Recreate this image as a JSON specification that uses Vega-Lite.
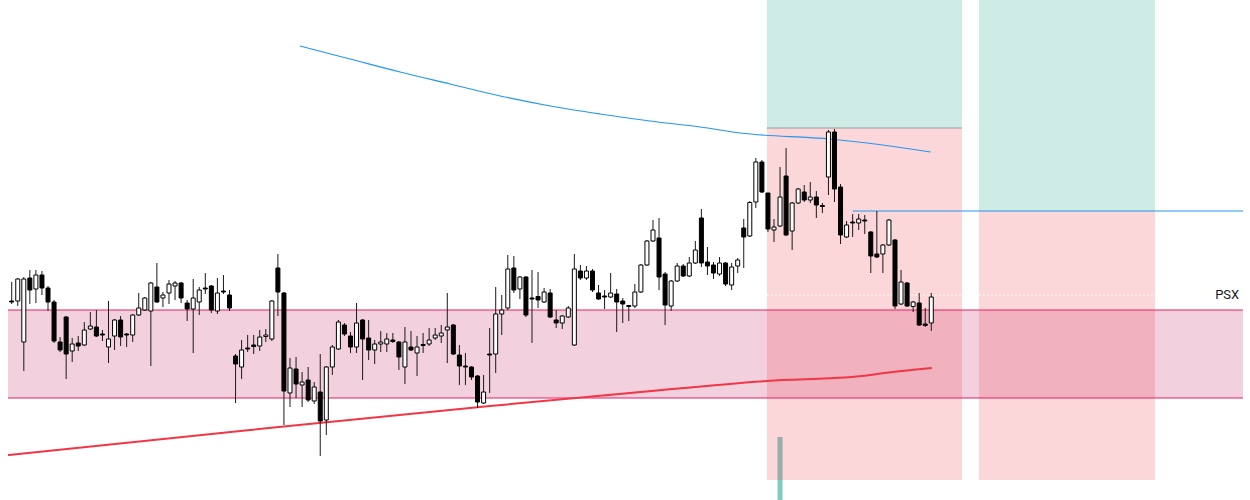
{
  "$schema": "https://vega.github.io/schema/vega-lite/v6.json",
  "width": 1250,
  "height": 500,
  "autosize": {"type": "fit", "contains": "padding"},
  "padding": 0,
  "background": "white",
  "config": {"view": {"stroke": null}, "scale": {"continuousPadding": 0}},
  "datasets": {
    "candles": [
      {"t":0,"o":199,"h":218,"l":196,"c":198},{"t":1,"o":199,"h":222,"l":194,"c":221},{"t":2,"o":158,"h":223,"l":129,"c":221},{"t":3,"o":222,"h":230,"l":196,"c":210},{"t":4,"o":211,"h":230,"l":197,"c":225},
      {"t":5,"o":225,"h":229,"l":205,"c":212},{"t":6,"o":212,"h":214,"l":189,"c":198},{"t":7,"o":198,"h":200,"l":157,"c":159},{"t":8,"o":158,"h":163,"l":148,"c":150},{"t":9,"o":183,"h":184,"l":121,"c":146},
      {"t":10,"o":149,"h":162,"l":138,"c":156},{"t":11,"o":157,"h":164,"l":149,"c":154},{"t":12,"o":155,"h":178,"l":154,"c":170},{"t":13,"o":171,"h":188,"l":170,"c":174},{"t":14,"o":173,"h":190,"l":163,"c":164},
      {"t":15,"o":166,"h":170,"l":159,"c":165},{"t":16,"o":153,"h":199,"l":137,"c":161},{"t":17,"o":164,"h":181,"l":150,"c":180},{"t":18,"o":180,"h":184,"l":154,"c":163},{"t":19,"o":166,"h":167,"l":153,"c":165},
      {"t":20,"o":165,"h":186,"l":158,"c":185},{"t":21,"o":185,"h":207,"l":184,"c":192},{"t":22,"o":190,"h":203,"l":189,"c":202},{"t":23,"o":189,"h":218,"l":134,"c":217},{"t":24,"o":213,"h":237,"l":197,"c":198},
      {"t":25,"o":202,"h":208,"l":193,"c":205},{"t":26,"o":207,"h":220,"l":196,"c":216},{"t":27,"o":214,"h":219,"l":200,"c":217},{"t":28,"o":217,"h":218,"l":197,"c":202},{"t":29,"o":197,"h":200,"l":179,"c":191},
      {"t":30,"o":191,"h":221,"l":147,"c":202},{"t":31,"o":198,"h":213,"l":185,"c":210},{"t":32,"o":212,"h":227,"l":206,"c":211},{"t":33,"o":214,"h":215,"l":187,"c":190},{"t":34,"o":189,"h":222,"l":186,"c":207},
      {"t":35,"o":209,"h":225,"l":206,"c":208},{"t":36,"o":205,"h":210,"l":189,"c":192},{"t":37,"o":144,"h":146,"l":97,"c":136},{"t":38,"o":133,"h":160,"l":121,"c":150},{"t":39,"o":152,"h":165,"l":148,"c":151},
      {"t":40,"o":155,"h":165,"l":146,"c":153.5},{"t":41,"o":154,"h":170,"l":149,"c":163},{"t":42,"o":163.5,"h":171,"l":158,"c":165},{"t":43,"o":161,"h":200,"l":159,"c":199},{"t":44,"o":232,"h":246,"l":184,"c":208},
      {"t":45,"o":207,"h":208,"l":75,"c":109},{"t":46,"o":107,"h":142,"l":93,"c":132},{"t":47,"o":131,"h":143,"l":102,"c":116},{"t":48,"o":115,"h":128,"l":93,"c":118},{"t":49,"o":120,"h":133,"l":98,"c":100},
      {"t":50,"o":99,"h":118,"l":96,"c":113},{"t":51,"o":108,"h":146,"l":44,"c":79},{"t":52,"o":80,"h":134,"l":65,"c":133},{"t":53,"o":133,"h":155,"l":125,"c":153},{"t":54,"o":151,"h":180,"l":150,"c":178},
      {"t":55,"o":175,"h":177,"l":164,"c":166},{"t":56,"o":164,"h":168,"l":147,"c":153},{"t":57,"o":153,"h":197,"l":147,"c":177},{"t":58,"o":180,"h":181,"l":120,"c":161},{"t":59,"o":162,"h":180,"l":140,"c":150},
      {"t":60,"o":150,"h":160,"l":136,"c":156},{"t":61,"o":156,"h":169,"l":148,"c":158},{"t":62,"o":156,"h":167,"l":148,"c":161},{"t":63,"o":160,"h":167,"l":157,"c":158.5},{"t":64,"o":158,"h":159,"l":130,"c":143},
      {"t":65,"o":133,"h":173,"l":116,"c":158},{"t":66,"o":153,"h":169,"l":149,"c":150},{"t":67,"o":147,"h":164,"l":124,"c":153},{"t":68,"o":155.5,"h":167,"l":147,"c":154.5},{"t":69,"o":156,"h":172,"l":154,"c":160},
      {"t":70,"o":162,"h":172,"l":160,"c":165},{"t":71,"o":164,"h":175,"l":157,"c":167},{"t":72,"o":170,"h":207,"l":137,"c":173},{"t":73,"o":175,"h":176,"l":145,"c":146},{"t":74,"o":145,"h":155,"l":115,"c":134},
      {"t":75,"o":134,"h":147,"l":115,"c":133},{"t":76,"o":133,"h":134,"l":120,"c":123},{"t":77,"o":124,"h":125,"l":92,"c":98},{"t":78,"o":97,"h":125,"l":96,"c":108},{"t":79,"o":146,"h":172,"l":107,"c":145},
      {"t":80,"o":146,"h":213,"l":127,"c":186},{"t":81,"o":186,"h":205,"l":165,"c":190},{"t":82,"o":192,"h":245,"l":190,"c":231},{"t":83,"o":232,"h":244,"l":207,"c":210},{"t":84,"o":211,"h":224,"l":201,"c":223},
      {"t":85,"o":223,"h":224,"l":183,"c":185},{"t":86,"o":202,"h":230,"l":157,"c":201},{"t":87,"o":203.5,"h":228,"l":192,"c":200},{"t":88,"o":198,"h":212,"l":197,"c":208},{"t":89,"o":207,"h":211,"l":182,"c":183},
      {"t":90,"o":180,"h":190,"l":172,"c":177},{"t":91,"o":177,"h":185,"l":171,"c":184},{"t":92,"o":183,"h":194,"l":182,"c":192},{"t":93,"o":155,"h":246,"l":154,"c":231},{"t":94,"o":229,"h":235,"l":220,"c":222},
      {"t":95,"o":222,"h":234,"l":220,"c":229},{"t":96,"o":229,"h":231,"l":208,"c":210},{"t":97,"o":207,"h":215,"l":200,"c":201},{"t":98,"o":204,"h":210,"l":191,"c":203},{"t":99,"o":203,"h":227,"l":202,"c":207},
      {"t":100,"o":206,"h":211,"l":168,"c":198},{"t":101,"o":199,"h":202,"l":177,"c":196},{"t":102,"o":194.5,"h":195,"l":179,"c":193.5},{"t":103,"o":194,"h":216,"l":192,"c":208},{"t":104,"o":208,"h":236,"l":207,"c":235},
      {"t":105,"o":235,"h":260,"l":234,"c":259},{"t":106,"o":259,"h":280,"l":258,"c":270},{"t":107,"o":262,"h":282,"l":210,"c":223},{"t":108,"o":226,"h":228,"l":175,"c":195},{"t":109,"o":194,"h":220,"l":189,"c":219},
      {"t":110,"o":219,"h":237,"l":218,"c":234},{"t":111,"o":234,"h":236,"l":223,"c":224},{"t":112,"o":224,"h":243,"l":223,"c":237},{"t":113,"o":237,"h":259,"l":236,"c":250},{"t":114,"o":282,"h":291,"l":233,"c":237},
      {"t":115,"o":238,"h":253,"l":225,"c":234},{"t":116,"o":235,"h":238,"l":221,"c":227},{"t":117,"o":226,"h":243,"l":224,"c":237},{"t":118,"o":237,"h":238,"l":214,"c":216},{"t":119,"o":215,"h":237,"l":210,"c":233},
      {"t":120,"o":234,"h":242,"l":227,"c":240},{"t":121,"o":272,"h":281,"l":232,"c":263},{"t":122,"o":264,"h":299,"l":263,"c":297.5},{"t":123,"o":298,"h":342,"l":292,"c":338},{"t":124,"o":338,"h":340,"l":307,"c":308},
      {"t":125,"o":307,"h":307,"l":268,"c":271},{"t":126,"o":270,"h":281,"l":258,"c":273},{"t":127,"o":274,"h":333,"l":273,"c":303},{"t":128,"o":324,"h":352,"l":264,"c":265},{"t":129,"o":269,"h":298,"l":250,"c":297},
      {"t":130,"o":297,"h":312,"l":296,"c":311},{"t":131,"o":308,"h":315,"l":298,"c":300},{"t":132,"o":300,"h":318,"l":297,"c":303},{"t":133,"o":303,"h":309,"l":282,"c":295},{"t":134,"o":294.5,"h":297,"l":287,"c":293.5},
      {"t":135,"o":323,"h":370,"l":305,"c":368},{"t":136,"o":368,"h":371,"l":298,"c":311},{"t":137,"o":313,"h":316,"l":256,"c":265},{"t":138,"o":263,"h":279,"l":262,"c":275},{"t":139,"o":278,"h":286,"l":263,"c":277},
      {"t":140,"o":277,"h":286,"l":270,"c":281},{"t":141,"o":280,"h":285,"l":266,"c":279},{"t":142,"o":268,"h":269,"l":227,"c":244},{"t":143,"o":246,"h":289,"l":242,"c":243},{"t":144,"o":246,"h":256,"l":227,"c":255},
      {"t":145,"o":255,"h":281,"l":254,"c":280},{"t":146,"o":260,"h":261,"l":191,"c":194},{"t":147,"o":196,"h":230,"l":195,"c":218},{"t":148,"o":217,"h":218,"l":193,"c":194},{"t":149,"o":193.5,"h":199,"l":188,"c":198},
      {"t":150,"o":197,"h":207,"l":174,"c":175},{"t":151,"o":176,"h":192,"l":173,"c":174.5},{"t":152,"o":177,"h":207,"l":169,"c":203}
    ],
    "zones": [
      {"kind":"band","t1":-0.61,"t2":203.52,"p1":102,"p2":190},
      {"kind":"green","t1":124.83,"t2":157.07,"p1":372,"p2":500},
      {"kind":"red","t1":124.83,"t2":157.07,"p1":20,"p2":372},
      {"kind":"green","t1":159.88,"t2":188.98,"p1":289,"p2":500},
      {"kind":"red","t1":159.88,"t2":188.98,"p1":20,"p2":289}
    ],
    "levels": [
      {"kind":"bandline","t1":-0.61,"t2":203.52,"p":190},
      {"kind":"bandline","t1":-0.61,"t2":203.52,"p":102},
      {"kind":"entry","t1":124.83,"t2":157.07,"p":372},
      {"kind":"blue","t1":139,"t2":203.52,"p":289},
      {"kind":"last","t1":124.83,"t2":203.52,"p":205}
    ],
    "ma": [
      {"s":"red","t":-0.61,"p":45},{"s":"red","t":39.39,"p":70},{"s":"red","t":79.06,"p":94},{"s":"red","t":102.2,"p":107},{"s":"red","t":124.8,"p":119},{"s":"red","t":140.5,"p":124},{"s":"red","t":145.0,"p":127.5},{"s":"red","t":152.1,"p":132},
      {"s":"blue","t":47.65,"p":454},{"s":"blue","t":55.92,"p":441},{"s":"blue","t":64.19,"p":428},{"s":"blue","t":72.45,"p":416},{"s":"blue","t":80.73,"p":404},{"s":"blue","t":89.0,"p":394},{"s":"blue","t":97.26,"p":386},{"s":"blue","t":105.5,"p":379},{"s":"blue","t":113.8,"p":373},{"s":"blue","t":120.4,"p":367},{"s":"blue","t":135.3,"p":361},{"s":"blue","t":141.4,"p":357},{"s":"blue","t":151.9,"p":348}
    ],
    "vol": [{"t":127,"v":63}],
    "label": [{"t":202.9,"p":205,"text":"PSX"}]
  },
  "layer": [
    {
      "data": {"name": "vol"},
      "mark": {"type": "bar", "size": 5, "color": "#80cbc4"},
      "encoding": {
        "x": {"field": "t", "type": "quantitative", "scale": {"domain": [-1.934, 204.68], "nice": false, "zero": false, "padding": 0}, "axis": null},
        "y": {"field": "v", "type": "quantitative", "scale": {"domain": [0, 500], "nice": false, "zero": false, "padding": 0}, "axis": null},
        "y2": {"datum": 0}
      }
    },
    {
      "data": {"name": "zones"},
      "transform": [{"filter": "datum.kind == 'band'"}],
      "mark": {"type": "rect", "color": "#f2d0de"},
      "encoding": {
        "x": {"field": "t1", "type": "quantitative", "scale": {"domain": [-1.934, 204.68], "nice": false, "zero": false, "padding": 0}, "axis": null},
        "x2": {"field": "t2"},
        "y": {"field": "p1", "type": "quantitative", "scale": {"domain": [0, 500], "nice": false, "zero": false, "padding": 0}, "axis": null},
        "y2": {"field": "p2"}
      }
    },
    {
      "data": {"name": "zones"},
      "transform": [{"filter": "datum.kind == 'red'"}],
      "mark": {"type": "rect", "color": "#f23645", "opacity": 0.2},
      "encoding": {
        "x": {"field": "t1", "type": "quantitative", "scale": {"domain": [-1.934, 204.68], "nice": false, "zero": false, "padding": 0}, "axis": null},
        "x2": {"field": "t2"},
        "y": {"field": "p1", "type": "quantitative", "scale": {"domain": [0, 500], "nice": false, "zero": false, "padding": 0}, "axis": null},
        "y2": {"field": "p2"}
      }
    },
    {
      "data": {"name": "zones"},
      "transform": [{"filter": "datum.kind == 'green'"}],
      "mark": {"type": "rect", "color": "#089981", "opacity": 0.2},
      "encoding": {
        "x": {"field": "t1", "type": "quantitative", "scale": {"domain": [-1.934, 204.68], "nice": false, "zero": false, "padding": 0}, "axis": null},
        "x2": {"field": "t2"},
        "y": {"field": "p1", "type": "quantitative", "scale": {"domain": [0, 500], "nice": false, "zero": false, "padding": 0}, "axis": null},
        "y2": {"field": "p2"}
      }
    },
    {
      "data": {"name": "levels"},
      "transform": [{"filter": "datum.kind == 'bandline'"}],
      "mark": {"type": "rule", "color": "#e91e63", "strokeWidth": 1},
      "encoding": {
        "x": {"field": "t1", "type": "quantitative", "scale": {"domain": [-1.934, 204.68], "nice": false, "zero": false, "padding": 0}, "axis": null},
        "x2": {"field": "t2"},
        "y": {"field": "p", "type": "quantitative", "scale": {"domain": [0, 500], "nice": false, "zero": false, "padding": 0}, "axis": null}
      }
    },
    {
      "data": {"name": "levels"},
      "transform": [{"filter": "datum.kind == 'entry'"}],
      "mark": {"type": "rule", "color": "#9598a1", "strokeWidth": 1},
      "encoding": {
        "x": {"field": "t1", "type": "quantitative", "scale": {"domain": [-1.934, 204.68], "nice": false, "zero": false, "padding": 0}, "axis": null},
        "x2": {"field": "t2"},
        "y": {"field": "p", "type": "quantitative", "scale": {"domain": [0, 500], "nice": false, "zero": false, "padding": 0}, "axis": null}
      }
    },
    {
      "data": {"name": "levels"},
      "transform": [{"filter": "datum.kind == 'last'"}],
      "mark": {"type": "rule", "color": "#ffffff", "strokeWidth": 1, "strokeDash": [2, 2]},
      "encoding": {
        "x": {"field": "t1", "type": "quantitative", "scale": {"domain": [-1.934, 204.68], "nice": false, "zero": false, "padding": 0}, "axis": null},
        "x2": {"field": "t2"},
        "y": {"field": "p", "type": "quantitative", "scale": {"domain": [0, 500], "nice": false, "zero": false, "padding": 0}, "axis": null}
      }
    },
    {
      "data": {"name": "ma"},
      "transform": [{"filter": "datum.s == 'red'"}],
      "mark": {"type": "line", "color": "#f23645", "strokeWidth": 2, "interpolate": "monotone"},
      "encoding": {
        "x": {"field": "t", "type": "quantitative", "scale": {"domain": [-1.934, 204.68], "nice": false, "zero": false, "padding": 0}, "axis": null},
        "y": {"field": "p", "type": "quantitative", "scale": {"domain": [0, 500], "nice": false, "zero": false, "padding": 0}, "axis": null}
      }
    },
    {
      "data": {"name": "ma"},
      "transform": [{"filter": "datum.s == 'blue'"}],
      "mark": {"type": "line", "color": "#2196f3", "strokeWidth": 1.2, "interpolate": "monotone"},
      "encoding": {
        "x": {"field": "t", "type": "quantitative", "scale": {"domain": [-1.934, 204.68], "nice": false, "zero": false, "padding": 0}, "axis": null},
        "y": {"field": "p", "type": "quantitative", "scale": {"domain": [0, 500], "nice": false, "zero": false, "padding": 0}, "axis": null}
      }
    },
    {
      "data": {"name": "levels"},
      "transform": [{"filter": "datum.kind == 'blue'"}],
      "mark": {"type": "rule", "color": "#2196f3", "strokeWidth": 1},
      "encoding": {
        "x": {"field": "t1", "type": "quantitative", "scale": {"domain": [-1.934, 204.68], "nice": false, "zero": false, "padding": 0}, "axis": null},
        "x2": {"field": "t2"},
        "y": {"field": "p", "type": "quantitative", "scale": {"domain": [0, 500], "nice": false, "zero": false, "padding": 0}, "axis": null}
      }
    },
    {
      "data": {"name": "candles"},
      "mark": {"type": "rule", "color": "#1a1a1a", "strokeWidth": 1},
      "encoding": {
        "x": {"field": "t", "type": "quantitative", "scale": {"domain": [-1.934, 204.68], "nice": false, "zero": false, "padding": 0}, "axis": null},
        "y": {"field": "l", "type": "quantitative", "scale": {"domain": [0, 500], "nice": false, "zero": false, "padding": 0}, "axis": null},
        "y2": {"field": "h"}
      }
    },
    {
      "data": {"name": "candles"},
      "mark": {"type": "bar", "size": 4, "stroke": "#000000", "strokeWidth": 1},
      "encoding": {
        "x": {"field": "t", "type": "quantitative", "scale": {"domain": [-1.934, 204.68], "nice": false, "zero": false, "padding": 0}, "axis": null},
        "y": {"field": "o", "type": "quantitative", "scale": {"domain": [0, 500], "nice": false, "zero": false, "padding": 0}, "axis": null},
        "y2": {"field": "c"},
        "fill": {"condition": {"test": "datum.c > datum.o", "value": "#ffffff"}, "value": "#000000"}
      }
    },
    {
      "data": {"name": "label"},
      "mark": {"type": "text", "align": "right", "baseline": "middle", "font": "Roboto", "fontSize": 13, "color": "#131722"},
      "encoding": {
        "x": {"field": "t", "type": "quantitative", "scale": {"domain": [-1.934, 204.68], "nice": false, "zero": false, "padding": 0}, "axis": null},
        "y": {"field": "p", "type": "quantitative", "scale": {"domain": [0, 500], "nice": false, "zero": false, "padding": 0}, "axis": null},
        "text": {"field": "text"}
      }
    }
  ]
}
